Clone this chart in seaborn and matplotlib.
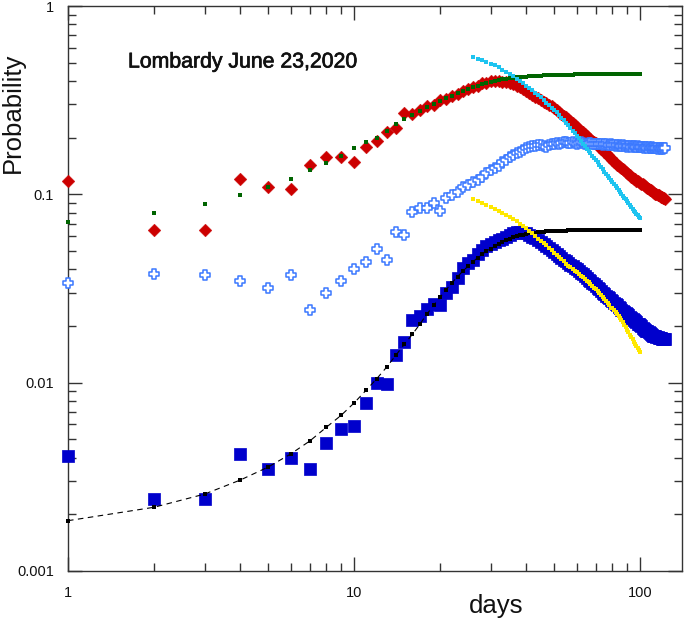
import numpy as np
import pandas as pd
import matplotlib
matplotlib.use("Agg")
import matplotlib.pyplot as plt
import matplotlib.patheffects as pe
import seaborn as sns
from matplotlib.ticker import LogLocator, NullFormatter, FixedLocator, FixedFormatter

# ---------------- data ----------------
days_data = list(range(1, 123))
days_model = list(range(1, 101))
days_late = list(range(26, 101))

red_data = [0.118, 0.065, 0.065, 0.120, 0.109, 0.107, 0.143, 0.158, 0.158, 0.149,
            0.178, 0.192, 0.215, 0.225, 0.270, 0.267, 0.280, 0.294, 0.298, 0.316,
            0.320, 0.332, 0.342, 0.352, 0.362, 0.372, 0.378, 0.388, 0.392, 0.398,
            0.402, 0.400, 0.396, 0.395, 0.390, 0.386, 0.378, 0.370, 0.362, 0.352,
            0.346, 0.338, 0.330, 0.324, 0.317, 0.310, 0.304, 0.297, 0.293, 0.287,
            0.280, 0.275, 0.268, 0.262, 0.257, 0.251, 0.245, 0.240, 0.233, 0.228,
            0.223, 0.218, 0.213, 0.208, 0.204, 0.200, 0.196, 0.193, 0.190, 0.187,
            0.183, 0.179, 0.175, 0.171, 0.168, 0.165, 0.161, 0.158, 0.155, 0.152,
            0.149, 0.147, 0.144, 0.142, 0.140, 0.138, 0.136, 0.134, 0.132, 0.130,
            0.128, 0.126, 0.124, 0.122, 0.121, 0.120, 0.118, 0.117, 0.116, 0.115,
            0.114, 0.113, 0.112, 0.111, 0.109, 0.108, 0.107, 0.106, 0.105, 0.104,
            0.103, 0.102, 0.101, 0.100, 0.099, 0.099, 0.098, 0.097, 0.097, 0.096,
            0.096, 0.095]

blue_data = [0.0041, 0.0024, 0.0024, 0.0042, 0.0035, 0.0040, 0.0035, 0.0048, 0.0057, 0.0059,
             0.0078, 0.0100, 0.0098, 0.0140, 0.0165, 0.0216, 0.0225, 0.0245, 0.0262, 0.0260,
             0.0300, 0.0322, 0.0360, 0.0405, 0.0430, 0.0450, 0.0480, 0.0505, 0.0530, 0.0545,
             0.0555, 0.0570, 0.0580, 0.0595, 0.0610, 0.0620, 0.0630, 0.0632, 0.0625, 0.0620,
             0.0608, 0.0595, 0.0583, 0.0570, 0.0558, 0.0545, 0.0532, 0.0520, 0.0507, 0.0495,
             0.0483, 0.0470, 0.0460, 0.0450, 0.0440, 0.0431, 0.0422, 0.0414, 0.0407, 0.0400,
             0.0392, 0.0384, 0.0376, 0.0368, 0.0358, 0.0352, 0.0346, 0.0340, 0.0333, 0.0325,
             0.0319, 0.0313, 0.0307, 0.0301, 0.0295, 0.0290, 0.0285, 0.0280, 0.0275, 0.0270,
             0.0266, 0.0262, 0.0258, 0.0253, 0.0248, 0.0244, 0.0240, 0.0237, 0.0234, 0.0232,
             0.0228, 0.0224, 0.0221, 0.0218, 0.0215, 0.0212, 0.0209, 0.0206, 0.0204, 0.0202,
             0.0199, 0.0196, 0.0193, 0.0191, 0.0189, 0.0187, 0.0185, 0.0183, 0.0181, 0.0180,
             0.0178, 0.0177, 0.0176, 0.0175, 0.0174, 0.0173, 0.0172, 0.0172, 0.0171, 0.0171,
             0.0170, 0.0170]

cross_data = [0.0340, 0.0377, 0.0375, 0.0345, 0.0317, 0.0373, 0.0243, 0.0300, 0.0345, 0.0401,
              0.0436, 0.0510, 0.0446, 0.0630, 0.0607, 0.0805, 0.0845, 0.0845, 0.0897, 0.0815,
              0.0957, 0.0990, 0.1030, 0.1100, 0.1120, 0.1160, 0.1190, 0.1240, 0.1300, 0.1350,
              0.1380, 0.1420, 0.1480, 0.1520, 0.1580, 0.1620, 0.1660, 0.1680, 0.1720, 0.1760,
              0.178, 0.180, 0.181, 0.183, 0.182, 0.180, 0.179, 0.182, 0.185, 0.186,
              0.187, 0.186, 0.188, 0.189, 0.190, 0.188, 0.187, 0.189, 0.188, 0.186,
              0.187, 0.189, 0.188, 0.186, 0.185, 0.187, 0.188, 0.186, 0.185, 0.184,
              0.186, 0.185, 0.184, 0.183, 0.185, 0.184, 0.183, 0.182, 0.184, 0.183,
              0.182, 0.181, 0.183, 0.182, 0.181, 0.180, 0.182, 0.181, 0.180, 0.179,
              0.181, 0.180, 0.179, 0.181, 0.180, 0.179, 0.178, 0.180, 0.179, 0.178,
              0.179, 0.178, 0.177, 0.179, 0.178, 0.177, 0.178, 0.177, 0.176, 0.178,
              0.177, 0.176, 0.177, 0.176, 0.175, 0.177, 0.176, 0.175, 0.176, 0.175,
              0.176, 0.176]

green_model = [0.0713, 0.0796, 0.0887, 0.099, 0.109, 0.120, 0.135, 0.147, 0.160, 0.176,
               0.190, 0.200, 0.217, 0.236, 0.251, 0.264, 0.277, 0.290, 0.300, 0.313,
               0.323, 0.334, 0.344, 0.353, 0.362, 0.370, 0.377, 0.384, 0.390, 0.395,
               0.400, 0.404, 0.408, 0.411, 0.414, 0.416, 0.418, 0.420, 0.421, 0.422,
               0.423, 0.424, 0.425, 0.426, 0.427, 0.428, 0.428, 0.429, 0.429, 0.430,
               0.430, 0.431, 0.431, 0.431, 0.432, 0.432, 0.432, 0.432, 0.433, 0.433,
               0.433, 0.433, 0.433, 0.434, 0.434, 0.434, 0.434, 0.434, 0.434, 0.434,
               0.434, 0.435, 0.435, 0.435, 0.435, 0.435, 0.435, 0.435, 0.435, 0.435,
               0.435, 0.435, 0.435, 0.435, 0.435, 0.435, 0.435, 0.435, 0.435, 0.435,
               0.435, 0.435, 0.435, 0.435, 0.435, 0.435, 0.435, 0.435, 0.435, 0.435]

black_model = [0.00185, 0.00218, 0.00256, 0.00304, 0.00356, 0.00418, 0.0049, 0.0058, 0.0067, 0.0078,
               0.0091, 0.0105, 0.0121, 0.0140, 0.0160, 0.0181, 0.0205, 0.0232, 0.0258, 0.0285,
               0.0312, 0.0340, 0.0366, 0.0391, 0.0415, 0.0438, 0.0460, 0.0480, 0.0498, 0.0515,
               0.0530, 0.0544, 0.0557, 0.0569, 0.0580, 0.0590, 0.0598, 0.0605, 0.0611, 0.0616,
               0.0620, 0.0624, 0.0627, 0.0630, 0.0632, 0.0634, 0.0636, 0.0637, 0.0638, 0.0639,
               0.0640, 0.0641, 0.0641, 0.0642, 0.0642, 0.0643, 0.0643, 0.0643, 0.0644, 0.0644,
               0.0644, 0.0644, 0.0645, 0.0645, 0.0645, 0.0645, 0.0645, 0.0645, 0.0646, 0.0646,
               0.0646, 0.0646, 0.0646, 0.0646, 0.0646, 0.0646, 0.0646, 0.0646, 0.0646, 0.0646,
               0.0646, 0.0646, 0.0646, 0.0646, 0.0646, 0.0646, 0.0646, 0.0646, 0.0646, 0.0646,
               0.0646, 0.0646, 0.0646, 0.0646, 0.0646, 0.0646, 0.0646, 0.0646, 0.0646, 0.0646]

cyan_model = [0.536, 0.525, 0.515, 0.505, 0.495, 0.484, 0.472, 0.460, 0.448, 0.436,
              0.424, 0.412, 0.400, 0.389, 0.378, 0.367, 0.357, 0.347, 0.337, 0.327,
              0.317, 0.307, 0.298, 0.289, 0.280, 0.272, 0.263, 0.255, 0.247, 0.239,
              0.232, 0.225, 0.218, 0.211, 0.204, 0.198, 0.192, 0.186, 0.180, 0.175,
              0.170, 0.165, 0.160, 0.156, 0.152, 0.148, 0.144, 0.140, 0.136, 0.132,
              0.129, 0.125, 0.122, 0.119, 0.116, 0.113, 0.111, 0.108, 0.106, 0.103,
              0.101, 0.098, 0.096, 0.094, 0.092, 0.090, 0.088, 0.086, 0.084, 0.082,
              0.081, 0.079, 0.078, 0.076, 0.075]

yellow_model = [0.094, 0.092, 0.090, 0.088, 0.086, 0.084, 0.082, 0.080, 0.078, 0.076,
                0.074, 0.072, 0.070, 0.068, 0.066, 0.064, 0.062, 0.060, 0.058, 0.0565,
                0.055, 0.0535, 0.052, 0.0505, 0.049, 0.0477, 0.0464, 0.0452, 0.044, 0.0428,
                0.0418, 0.0410, 0.0402, 0.0394, 0.0386, 0.0378, 0.0370, 0.0362, 0.0355, 0.0348,
                0.0341, 0.0334, 0.0327, 0.0320, 0.0313, 0.0306, 0.0299, 0.0292, 0.0285, 0.0278,
                0.0271, 0.0264, 0.0257, 0.0250, 0.0248, 0.0242, 0.0236, 0.0231, 0.0226, 0.0221,
                0.0215, 0.0209, 0.0203, 0.0197, 0.0191, 0.0185, 0.0180, 0.0175, 0.0170, 0.0165,
                0.0160, 0.0156, 0.0152, 0.0149, 0.0146]

x_ticks = [1, 10, 100]
x_ticklabels = ["1", "10", "100"]
y_ticks = [0.001, 0.01, 0.1, 1]
y_ticklabels = ["0.001", "0.01", "0.1", "1"]

title_text = "Lombardy June 23,2020"
xlabel_text = "days"
ylabel_text = "Probability"

# ---------------- style ----------------
sns.set_style("ticks")
plt.rcParams["font.family"] = ["Liberation Sans", "DejaVu Sans"]

fig = plt.figure(figsize=(6.85, 6.23), dpi=100)
ax = fig.add_axes([68 / 685, 1 - 571 / 623, 614 / 685, 565 / 623])

df_red = pd.DataFrame({"day": days_data, "p": red_data})
df_blue = pd.DataFrame({"day": days_data, "p": blue_data})
df_cross = pd.DataFrame({"day": days_data, "p": cross_data})
df_green = pd.DataFrame({"day": days_model, "p": green_model})
df_black = pd.DataFrame({"day": days_model, "p": black_model})
df_cyan = pd.DataFrame({"day": days_late, "p": cyan_model})
df_yellow = pd.DataFrame({"day": days_late, "p": yellow_model})

sns.scatterplot(data=df_red, x="day", y="p", ax=ax, marker="D", s=42,
                color="#cc0000", edgecolor="#cc0000", linewidth=0.3, zorder=2, clip_on=False)
sns.scatterplot(data=df_blue, x="day", y="p", ax=ax, marker="s", s=68,
                color="#0000cc", edgecolor="#0000cc", linewidth=0.5, zorder=2, clip_on=False,
                antialiased=False)
sns.scatterplot(data=df_cross, x="day", y="p", ax=ax, marker="P", s=62,
                color="white", edgecolor="#3a78ff", linewidth=1.1, zorder=3, clip_on=False)

sns.lineplot(data=df_black, x="day", y="p", ax=ax, color="black", linewidth=0.8,
             linestyle=(0, (5, 4)), zorder=4)
sns.scatterplot(data=df_green, x="day", y="p", ax=ax, marker="s", s=10,
                color="#006400", linewidth=0, zorder=5, clip_on=False)
sns.scatterplot(data=df_cyan, x="day", y="p", ax=ax, marker="s", s=10,
                color="#1ec4f0", linewidth=0, zorder=5)
sns.scatterplot(data=df_black, x="day", y="p", ax=ax, marker="s", s=10,
                color="black", linewidth=0, zorder=5, clip_on=False)
sns.scatterplot(data=df_yellow, x="day", y="p", ax=ax, marker="s", s=10,
                color="#ffe800", linewidth=0, zorder=6)

ax.set_xscale("log")
ax.set_yscale("log")
ax.set_xlim(1, 140)
ax.set_ylim(0.001, 1)

ax.xaxis.set_major_locator(FixedLocator(x_ticks))
ax.xaxis.set_major_formatter(FixedFormatter(x_ticklabels))
ax.yaxis.set_major_locator(FixedLocator(y_ticks))
ax.yaxis.set_major_formatter(FixedFormatter(y_ticklabels))
ax.xaxis.set_minor_locator(LogLocator(base=10, subs=np.arange(2, 10), numticks=20))
ax.yaxis.set_minor_locator(LogLocator(base=10, subs=np.arange(2, 10), numticks=20))
ax.xaxis.set_minor_formatter(NullFormatter())
ax.yaxis.set_minor_formatter(NullFormatter())

ax.tick_params(which="both", direction="in", top=True, right=True, color="#333333",
               width=1.0, labelsize=10.5, labelcolor="#111111")
ax.tick_params(which="major", length=10)
ax.tick_params(which="minor", length=6)
ax.tick_params(axis="x", which="major", pad=11)
ax.tick_params(axis="y", which="major", pad=10)

for sp in ax.spines.values():
    sp.set_visible(True)
    sp.set_color("#333333")
    sp.set_linewidth(1.0)
    sp.set_zorder(1)

ax.set_xlabel("")
ax.set_ylabel("")
fig.text(13 / 685, 1 - 113 / 623, ylabel_text, rotation=90, ha="center", va="center",
         fontsize=18.5, color="#111111")
fig.text(496 / 685, 1 - 606 / 623, xlabel_text, ha="center", va="center",
         fontsize=18.5, color="#111111")
fig.text(128 / 685, 1 - 62 / 623, title_text, ha="left", va="center",
         fontsize=15.3, color="#111111",
         path_effects=[pe.withStroke(linewidth=0.5, foreground="#111111")])

fig.savefig("out.png", dpi=100)
